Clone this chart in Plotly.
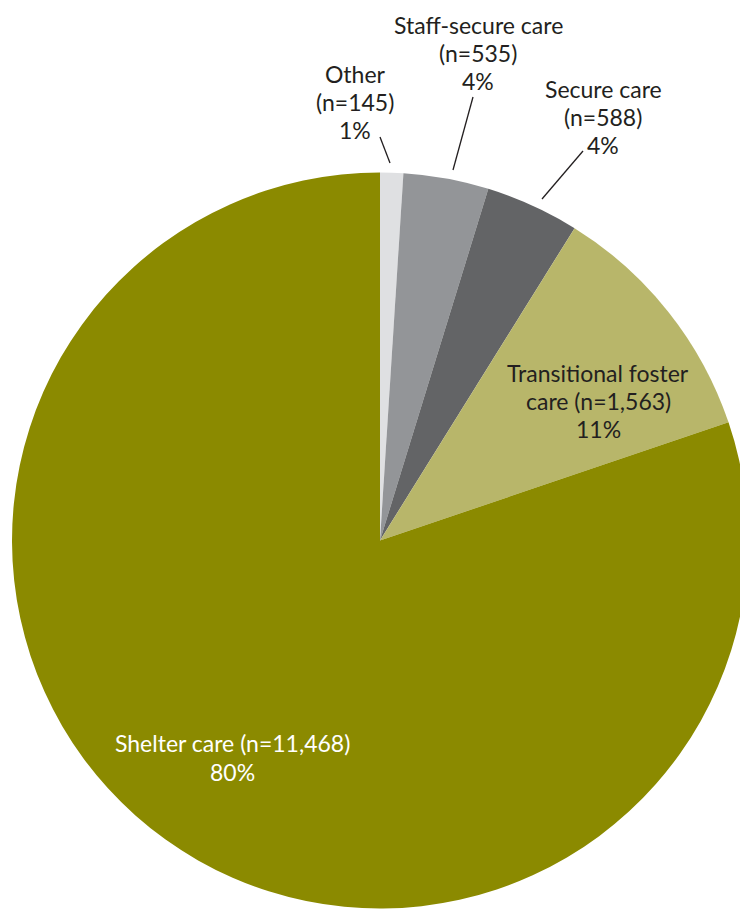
import plotly.graph_objects as go

categories = ["Other", "Staff-secure care", "Secure care", "Transitional foster care", "Shelter care"]
counts = [145, 535, 588, 1563, 11468]
percents = ["1%", "4%", "4%", "11%", "80%"]
colors = ["#dfe0e2", "#939598", "#636466", "#b8b66a", "#8b8a00"]

BODY = 8  # default page margin of the html body
W, H = 748 - BODY, 909 - BODY
L, T = 4, 164
PW, PH = W - L, H - T

def px(x):
    return (x - BODY - L) / PW

def py(y):
    return 1 - (y - BODY - T) / PH

fig = go.Figure(go.Pie(
    labels=categories,
    values=counts,
    marker=dict(colors=colors, line=dict(width=0)),
    sort=False,
    direction="clockwise",
    rotation=0,
    textinfo="none",
    hoverinfo="label+value+percent",
    showlegend=False,
))

label_lines = [
    ["Other", "(n=145)", "1%"],
    ["Staff-secure care", "(n=535)", "4%"],
    ["Secure care", "(n=588)", "4%"],
    ["Transitional foster", "care (n=1,563)", "11%"],
    ["Shelter care (n=11,468)", "80%"],
]
label_x = [355, 478, 603, 598, 233]
label_y = [[74, 102, 130], [25, 53, 81], [89, 117, 145], [373, 401, 429], [743, 772]]
label_col = ["#231f20", "#231f20", "#231f20", "#231f20", "#ffffff"]

annotations = []
for lines, x, ys, c in zip(label_lines, label_x, label_y, label_col):
    for t, y in zip(lines, ys):
        annotations.append(dict(
            text=t, x=px(x), y=py(y), xref="paper", yref="paper",
            showarrow=False, xanchor="center", yanchor="middle", align="center",
            font=dict(family="Lato, sans-serif", size=23, color=c),
        ))

leaders = [((380, 137), (390, 163)), ((473, 97), (453, 170)), ((583, 151), (542, 199))]
shapes = []
for (x0, y0), (x1, y1) in leaders:
    shapes.append(dict(type="line", xref="paper", yref="paper",
                       x0=px(x0), y0=py(y0), x1=px(x1), y1=py(y1),
                       line=dict(color="#231f20", width=1.3)))

fig.update_layout(
    width=W, height=H,
    margin=dict(l=L, r=0, t=T, b=0),
    paper_bgcolor="white", plot_bgcolor="white",
    annotations=annotations, shapes=shapes,
)

fig.write_html("out.html")
